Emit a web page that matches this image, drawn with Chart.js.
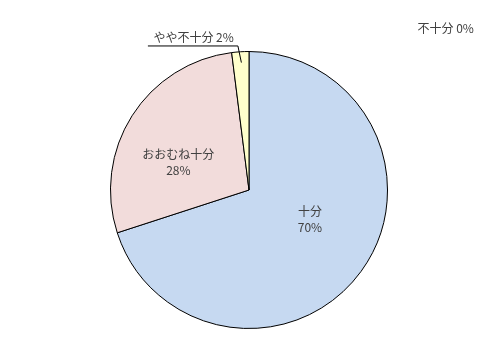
<!DOCTYPE html>
<html>
<head>
<meta charset="utf-8">
<script src="https://cdn.jsdelivr.net/npm/chart.js@4.4.1/dist/chart.umd.min.js"></script>
<style>
  html, body { margin: 0; padding: 0; background: #fff; }
  #wrap { width: 498px; height: 348px; position: relative; }
</style>
</head>
<body>
<div id="wrap"><canvas id="pie"></canvas></div>
<script>
// --- Data ---
const categories = ['十分', 'おおむね十分', 'やや不十分', '不十分'];
const percents = [70, 28, 2, 0];
const sliceColors = ['#C6D9F1', '#F2DCDB', '#FFFFCC', '#E6E0EC'];

const FONT = '"Noto Sans CJK JP", "Noto Sans", sans-serif';
const TEXT_COLOR = '#404040';

// label placement, as fractions of the pie radius from its centre
const labelSpots = [
  { kind: 'inside', fx: 0.44, fy: 0.21 },
  { kind: 'inside', fx: -0.51, fy: -0.2 },
  { kind: 'leader', from: [-0.055, -0.92], elbow: [-0.08, -1.04], lineEnd: -0.73, text: [-0.40, -1.1] },
  { kind: 'free', fx: 1.42, fy: -1.17 }
];

// --- Plugin: draws the Excel-style labels ---
const pieLabels = {
  id: 'pieLabels',
  afterDatasetsDraw(chart) {
    const ctx = chart.ctx;
    const arcs = chart.getDatasetMeta(0).data;
    if (!arcs.length) return;
    const cx = arcs[0].x, cy = arcs[0].y, R = arcs[0].outerRadius;

    ctx.save();
    ctx.font = '12px ' + FONT;
    ctx.fillStyle = TEXT_COLOR;
    ctx.textAlign = 'center';
    ctx.textBaseline = 'middle';

    categories.forEach((name, i) => {
      const spot = labelSpots[i];
      const pct = percents[i] + '%';
      if (spot.kind === 'inside') {
        const x = cx + spot.fx * R, y = cy + spot.fy * R;
        ctx.fillText(name, x, y - 8);
        ctx.fillText(pct, x, y + 8);
      } else if (spot.kind === 'leader') {
        ctx.strokeStyle = '#000';
        ctx.lineWidth = 1;
        ctx.beginPath();
        ctx.moveTo(cx + spot.from[0] * R, cy + spot.from[1] * R);
        ctx.lineTo(cx + spot.elbow[0] * R, cy + spot.elbow[1] * R);
        ctx.lineTo(cx + spot.lineEnd * R, cy + spot.elbow[1] * R);
        ctx.stroke();
        ctx.fillText(name + ' ' + pct, cx + spot.text[0] * R, cy + spot.text[1] * R);
      } else {
        ctx.fillText(name + ' ' + pct, cx + spot.fx * R, cy + spot.fy * R);
      }
    });
    ctx.restore();
  }
};

new Chart(document.getElementById('pie'), {
  type: 'pie',
  data: {
    labels: categories,
    datasets: [{
      data: percents,
      backgroundColor: sliceColors,
      borderColor: '#000',
      borderWidth: 1
    }]
  },
  options: {
    responsive: true,
    maintainAspectRatio: false,
    animation: false,
    layout: { padding: { top: 51, bottom: 19, left: 0, right: 0 } },
    plugins: {
      legend: { display: false },
      tooltip: { enabled: false }
    }
  },
  plugins: [pieLabels]
});
</script>
</body>
</html>
